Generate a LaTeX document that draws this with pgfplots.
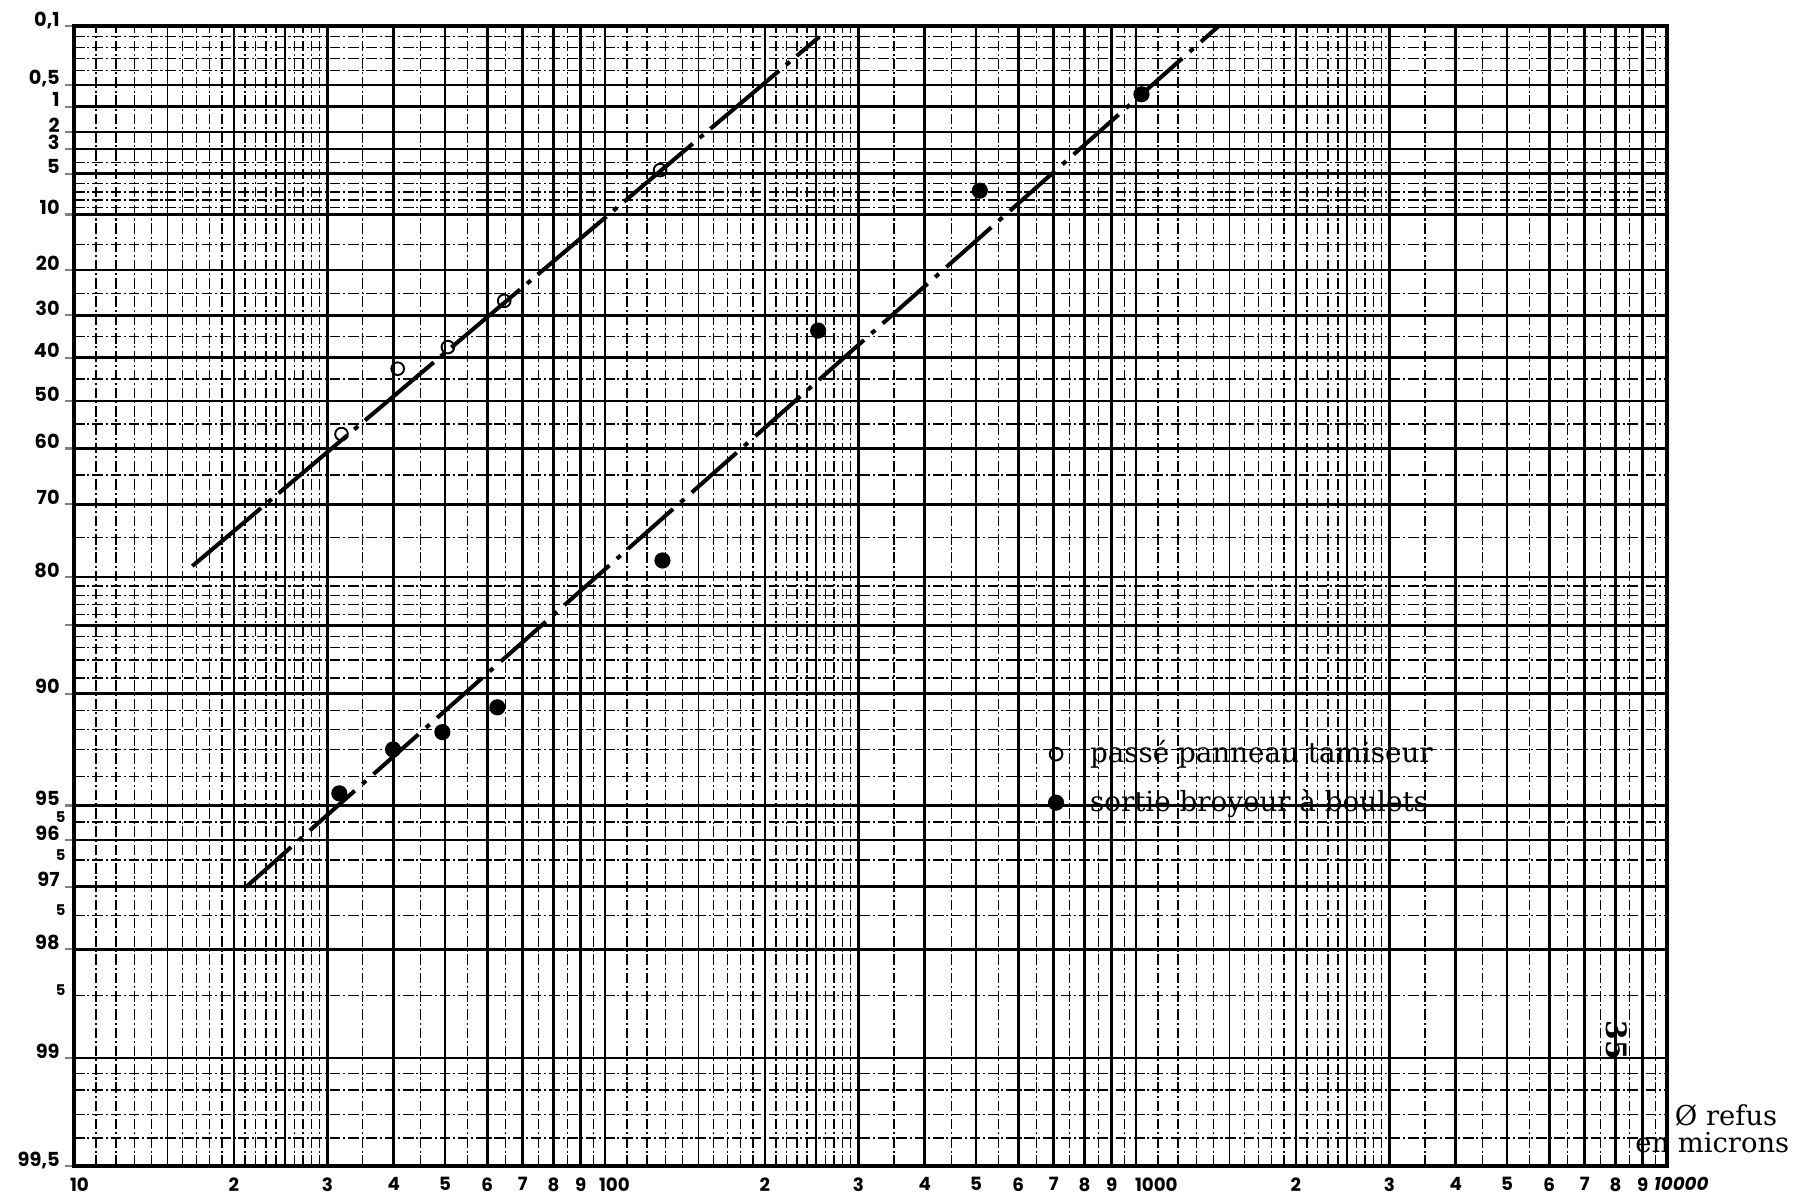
\documentclass[border=0pt]{standalone}
\usepackage{fontspec}
\setmainfont{DejaVu Serif}
\newfontfamily\tickfont{Poppins}
\usepackage{pgfplots}
\pgfplotsset{compat=1.18}
\begin{document}
\begin{tikzpicture}[x=1mm,y=1mm]
\useasboundingbox (0,0) rectangle (179.7,119.3);
\begin{axis}[
  at={(7.4mm,2.7mm)}, anchor=south west,
  scale only axis, width=159.3mm, height=114mm,
  xmode=log, xmin=10, xmax=10000,
  y coord trafo/.code={\pgfmathparse{ln(ln(100/#1))}},
  ymin=99.5, ymax=0.0432,
  axis line style={line width=1pt},
  tick align=outside,
  ytick pos=left, xtick pos=bottom,
  major tick length=0.9mm, minor tick length=0pt,
  xtick style={draw=none},
  ytick style={line width=0.6pt},
  grid=both,
  major grid style={black, line width=0.75pt},
  minor grid style={black, line width=0.35pt, dash pattern=on 3pt off 0.8pt on 0.6pt off 0.8pt},
  xtick={10,20,30,40,50,60,70,80,90,100,200,300,400,500,600,700,800,900,1000,2000,3000,4000,5000,6000,7000,8000,9000,10000},
  xticklabels={
    \makebox[0pt][l]{\hspace{-0.4mm}10},2,3,4,5,6,7,8,9,
    \makebox[0pt][l]{\hspace{-0.6mm}100},2,3,4,5,6,7,8,9,
    \makebox[0pt][l]{\hspace{-0.1mm}1000},2,3,4,5,6,7,8,9,
    \makebox[0pt][l]{\hspace{-1.3mm}\itshape 10000}},
  minor xtick={11,12,13,14,16,17,18,19,21,22,23,24,26,27,28,29,35,45,55,65,75,85,95,
               110,120,130,140,160,170,180,190,210,220,230,240,260,270,280,290,350,450,550,650,750,850,950,
               1100,1200,1300,1400,1600,1700,1800,1900,2100,2200,2300,2400,2600,2700,2800,2900,3500,4500,5500,6500,7500,8500,9500},
  extra x ticks={15,25,150,250,1500,2500},
  extra x tick labels={},
  extra x tick style={grid=major, major grid style={black, line width=0.5pt}, tick style={draw=none}},
  ytick={0.0433,0.5,1,2,3,5,10,20,30,40,50,60,70,80,85,90,95,96,97,98,99,99.5},
  yticklabels={{0,1},{0,5},1,2,3,5,10,20,30,40,50,60,70,80,,90,95,96,97,98,99,{99,5}},
  minor ytick={0.0707,0.1163,0.1845,0.2947,4,6,7,8,9,15,25,35,45,55,65,75,81,82,83,84,86,87,88,89,91,92,93,94,95.5,96.5,97.5,98.5,99.1,99.2,99.3,99.4},
  extra y ticks={95.5,96.5,97.5,98.5},
  extra y tick labels={5,5,5,5},
  extra y tick style={grid=none, major tick length=0pt, yticklabel style={font={\tickfont\bfseries\fontsize{4.2}{5}\selectfont}, xshift=-0.3mm}},
  xticklabel style={font={\tickfont\bfseries\fontsize{5.2}{6}\selectfont}, anchor=north, yshift=1.0mm},
  yticklabel style={font={\tickfont\bfseries\fontsize{5.5}{6}\selectfont}, anchor=base east, xshift=0.7mm},
  legend style={font={\fontsize{7.9}{9}\selectfont}, draw=none, fill=none,
    at={(axis description cs:0.600,0.340)}, anchor=west, row sep=2pt},
  legend cell align=left,
  legend image code/.code={\path[draw=none] (0cm,0cm) -- (0.42cm,0cm); \path[#1, draw=none] plot[only marks] coordinates {(0.15cm,0cm)};},
]
% fitted lines
\addplot[black, line width=1.15pt, dash pattern=on 9mm off 0.9mm on 0.5mm off 0.9mm, forget plot]
  coordinates {(16.7,78.7) (253.3,0.073)};
\addplot[black, line width=1.15pt, dash pattern=on 6mm off 1mm on 0.5mm off 1mm, forget plot]
  coordinates {(21.1,97.0) (1431,0.0435)};
% measured points
\addplot[only marks, mark=o, mark size=1.8pt, mark options={black, draw=black, line width=0.55pt}]
  coordinates {(31.9,57.1) (40.7,42.6) (50.6,37.5) (64.6,26.7) (127,4.67)};
\addlegendentry{passé panneau tamiseur}
\addplot[only marks, mark=*, mark size=2.1pt, mark options={black, draw=black, fill=black}]
  coordinates {(31.6,94.6) (39.9,92.9) (49.4,92.1) (62.7,90.8) (128.3,78.0) (252,33.6) (508,6.83) (1024,0.68)};
\addlegendentry{sortie broyeur à boulets}
\end{axis}
\node[anchor=east, font=\fontsize{7.8}{9}\selectfont, inner sep=0pt] at (177.8,7.8) {Ø refus};
\node[anchor=east, font=\fontsize{7.8}{9}\selectfont, inner sep=0pt] at (179.0,5.0) {en microns};
\node[rotate=-90, font=\fontsize{8}{9}\selectfont\bfseries, inner sep=0pt] at (161.7,15.3) {35};
\end{tikzpicture}
\end{document}
